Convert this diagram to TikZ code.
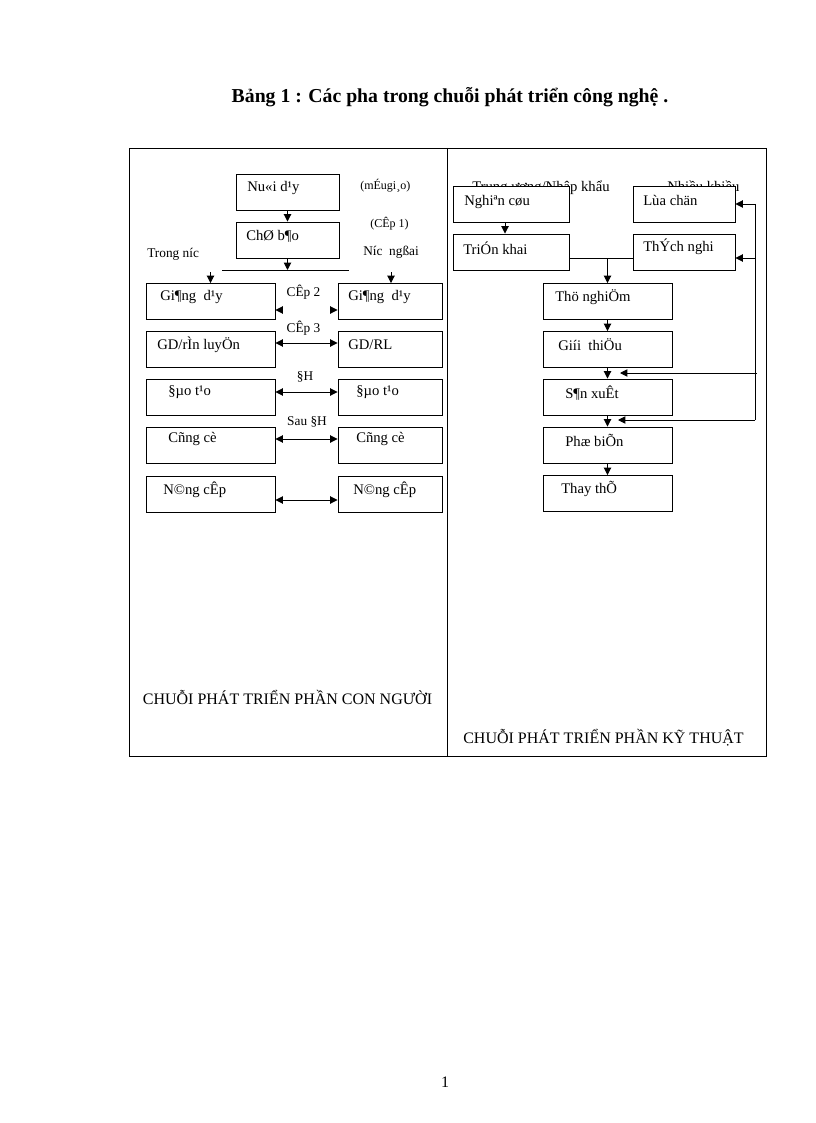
\documentclass[tikz,border=0pt]{standalone}
\usepackage{fontspec}
\setmainfont{Liberation Serif}
\usetikzlibrary{arrows.meta,calc}
\begin{document}
\begin{tikzpicture}[x=0.75pt,y=-0.75pt,
  bx/.style={draw, line width=0.7pt, fill=white, inner sep=0pt, minimum height=27pt},
  wA/.style={minimum width=77.25pt},
  wL/.style={minimum width=96.75pt},
  wR/.style={minimum width=78pt},
  wN/.style={minimum width=87pt},
  wS/.style={minimum width=76.5pt},
  tx/.style={anchor=west, inner sep=0pt, font=\fontsize{11}{13}\selectfont},
  lab/.style={anchor=center, inner sep=0pt, font=\fontsize{10}{12}\selectfont},
  sm/.style={anchor=west, inner sep=0pt, font=\fontsize{9}{11}\selectfont},
  big/.style={inner sep=0pt, font=\fontsize{12}{14}\selectfont},
  ln/.style={line width=0.7pt},
  ar/.style={line width=0.7pt, -{Triangle[length=5.5pt,width=5.5pt]}},
  dar/.style={line width=0.7pt, {Triangle[length=5.5pt,width=5.5pt]}-{Triangle[length=5.5pt,width=5.5pt]}}]

\useasboundingbox (0,0) rectangle (816,1123);

% title and page number
\node[inner sep=0pt, font=\bfseries\fontsize{14.8}{17}\selectfont] (title) at (450,97) {Bảng 1 : Các pha trong chuỗi phát triển công nghệ .};
\node[big] (pg) at (445,1082) {1};

% frame
\coordinate (fa) at (129,148);
\coordinate (fb) at (766,756);
\coordinate (da) at (447,148);
\coordinate (db) at (447,756);
\draw[ln] (fa) rectangle (fb);
\draw[ln] (da) -- (db);

% ---------- left panel ----------
\node[bx,wA] (nd) at (287.5,192) {};
\node[tx] (tnd) at (247,188) {Nu«i d¹y};
\node[bx,wA] (cb) at (287.5,240) {};
\node[tx] (tcb) at (246,236) {ChØ b¶o};
\node[sm] (mg) at (360,186) {(mÉugi¸o)};
\node[sm] (c1) at (370,224) {(CÊp 1)};
\node[lab,anchor=west] (tn) at (147,254) {Trong níc};
\node[lab,anchor=west] (nn) at (363,252) {Níc\ \ ngßai};

\coordinate (hl) at (222,270);
\coordinate (hr) at (349,270);
\coordinate (hm) at (287.5,270);
\draw[ln] (hl) -- (hr);
\draw[ar] (nd.south) -- (cb.north);
\draw[ar] (cb.south) -- (hm);

\node[bx,wL] (L1) at (210.5,301.5) {};
\node[bx,wL] (L2) at (210.5,349.5) {};
\node[bx,wL] (L3) at (210.5,397) {};
\node[bx,wL] (L4) at (210.5,445) {};
\node[bx,wL] (L5) at (210.5,494) {};
\node[bx,wR] (R1) at (390,301.5) {};
\node[bx,wR] (R2) at (390,349.5) {};
\node[bx,wR] (R3) at (390,397) {};
\node[bx,wR] (R4) at (390,445) {};
\node[bx,wR] (R5) at (390,494) {};

\node[tx] (tL1) at (160,297) {Gi¶ng\ \ d¹y};
\node[tx] (tL2) at (157,345) {GD/rÌn luyÖn};
\node[tx] (tL3) at (168,392) {§µo t¹o};
\node[tx] (tL4) at (168,439) {Cñng cè};
\node[tx] (tL5) at (163,490) {N©ng cÊp};
\node[tx] (tR1) at (348,297) {Gi¶ng\ \ d¹y};
\node[tx] (tR2) at (348,345) {GD/RL};
\node[tx] (tR3) at (356,392) {§µo t¹o};
\node[tx] (tR4) at (356,439) {Cñng cè};
\node[tx] (tR5) at (353,490) {N©ng cÊp};

\coordinate (al) at (210.5,272);
\coordinate (arr) at (391,272);
\draw[ar] (al) -- (al |- L1.north);
\draw[ar] (arr) -- (arr |- R1.north);

\node[lab] (k2) at (303.5,292) {CÊp 2};
\node[lab] (k3) at (303.5,328) {CÊp 3};
\node[lab] (k4) at (305,377) {§H};
\node[lab] (k5) at (307,422) {Sau §H};

% row 1: only the tips show
\draw[ar] ($(L1.east)+(7,8.5)$) -- ($(L1.east)+(0,8.5)$);
\draw[ar] ($(R1.west)+(-7,8.5)$) -- ($(R1.west)+(0,8.5)$);
\draw[dar] ($(L2.east)+(0,-6.5)$) -- ($(R2.west)+(0,-6.5)$);
\draw[dar] ($(L3.east)+(0,-5)$) -- ($(R3.west)+(0,-5)$);
\draw[dar] ($(L4.east)+(0,-6)$) -- ($(R4.west)+(0,-6)$);
\draw[dar] ($(L5.east)+(0,6)$) -- ($(R5.west)+(0,6)$);

\node[big] (bl) at (287.5,697) {CHUỖI PHÁT TRIỂN PHẦN CON NGƯỜI};

% ---------- right panel ----------
\node[tx,anchor=base west] (h1) at (472,192) {Trung ương/Nhập khẩu};
\node[tx,anchor=base west] (h2) at (667,192) {Nhiều khiều};

\node[bx,wN] (ng) at (511,204) {};
\node[bx,wN] (tk) at (511,252) {};
\node[bx,wS] (lc) at (684,204) {};
\node[bx,wS] (tg) at (684,252) {};
\node[tx] (tng) at (464,202) {Nghiªn cøu};
\node[tx] (ttk) at (463,248) {TriÓn khai};
\node[tx] (tlc) at (643,200) {Lùa chän};
\node[tx] (ttg) at (643,247) {ThÝch nghi};

\node[bx,wL] (M1) at (607.5,301.5) {};
\node[bx,wL] (M2) at (607.5,349.5) {};
\node[bx,wL] (M3) at (607.5,397) {};
\node[bx,wL] (M4) at (607.5,445) {};
\node[bx,wL] (M5) at (607.5,493.5) {};
\node[tx] (tM1) at (555,297) {Thö nghiÖm};
\node[tx] (tM2) at (558,345) {Giíi\ \ thiÖu};
\node[tx] (tM3) at (565,393) {S¶n xuÊt};
\node[tx] (tM4) at (565,440) {Phæ biÕn};
\node[tx] (tM5) at (561,489) {Thay thÕ};

\draw[ar] ($(ng.south)+(-6,0)$) -- ($(tk.north)+(-6,0)$);
\draw[ln] ($(tk.east)+(0,6)$) -- ($(tg.west)+(0,6)$);
\coordinate (jm) at (607.5,258);
\draw[ar] (jm) -- (M1.north);
\draw[ar] (M1) -- (M2);
\draw[ar] (M2) -- (M3);
\draw[ar] (M3) -- (M4);
\draw[ar] (M4) -- (M5);

\coordinate (f1) at (755,204);
\coordinate (f2) at (755,258);
\coordinate (f3) at (757,373);
\coordinate (f4) at (755,420);
\coordinate (e3) at (620,373);
\coordinate (e4) at (618,420);
\draw[ln] (f1) -- (f4);
\draw[ar] (f1) -- (lc.east);
\draw[ar] (f2) -- (f2 -| tg.east);
\draw[ar] (f3) -- (e3);
\draw[ar] (f4) -- (e4);

\node[big] (br) at (603.5,738) {CHUỖI PHÁT TRIỂN PHẦN KỸ THUẬT};
\end{tikzpicture}
\end{document}
